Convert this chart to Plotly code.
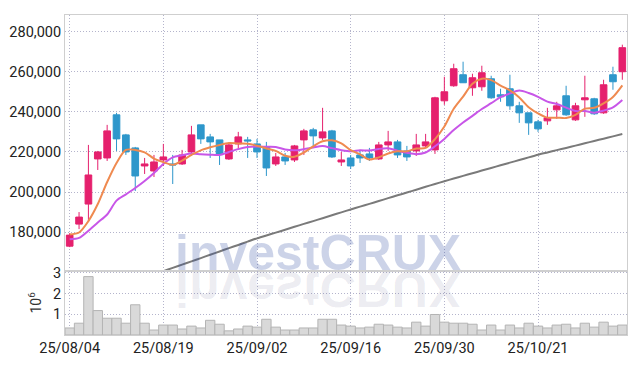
import plotly.graph_objects as go

dates = ["25/08/04","25/08/05","25/08/06","25/08/07","25/08/08","25/08/11","25/08/12","25/08/13","25/08/14","25/08/18",
         "25/08/19","25/08/20","25/08/21","25/08/22","25/08/25","25/08/26","25/08/27","25/08/28","25/08/29","25/09/01",
         "25/09/02","25/09/03","25/09/04","25/09/05","25/09/08","25/09/09","25/09/10","25/09/11","25/09/12","25/09/15",
         "25/09/16","25/09/17","25/09/18","25/09/19","25/09/22","25/09/23","25/09/24","25/09/25","25/09/26","25/09/29",
         "25/09/30","25/10/01","25/10/02","25/10/10","25/10/13","25/10/14","25/10/15","25/10/16","25/10/17","25/10/20",
         "25/10/21","25/10/22","25/10/23","25/10/24","25/10/27","25/10/28","25/10/29","25/10/30","25/10/31","25/11/03"]

opens = [173000,184000,194000,216500,217000,238500,228500,222000,213000,210500,
         216000,214000,214000,220000,233500,227500,226000,216500,224000,226000,
         224000,222500,214000,217500,216000,226000,231000,227000,230500,215000,
         217000,218500,219000,216500,223500,225000,220500,220500,223000,221000,
         245500,253000,258500,252000,252500,256500,248500,251500,243000,239500,
         235000,235500,241000,248000,236000,246000,246500,239500,258500,260000]
highs = [179500,190000,223500,220500,233500,239500,229000,222500,217000,218500,
         224000,218500,221000,233000,233500,229000,226000,224000,230000,227500,
         226500,225000,219500,219500,223500,231500,232000,242000,231000,220000,
         218500,220500,222000,225000,230500,226000,223000,229000,229000,247500,
         257500,264000,265000,259000,263000,258000,251500,258500,245000,239500,
         236000,242000,245000,253000,244500,258000,247000,256000,262500,273500]
lows = [172500,181500,185000,211000,215500,220500,218500,200500,209000,207500,
        213000,204000,213500,218000,224000,217000,213500,216000,221500,217000,
        217000,208000,213000,213500,215000,218500,222000,226000,217000,213000,
        211500,214500,215500,216000,220500,217000,215500,218000,222000,219000,
        243500,252500,254500,248000,250500,246500,245000,241000,234500,228500,
        230000,233500,236500,238000,235500,237500,238500,239000,251000,256000]
closes = [178500,187500,208500,220000,230500,226500,220000,208000,214000,215000,
          217500,213500,218500,228500,226500,225000,219000,223500,227500,225500,
          220000,212000,217500,215500,223000,230500,228000,230000,217500,216000,
          213000,217000,217000,223500,225000,218500,217500,223500,225000,247000,
          250000,261500,254500,257000,259500,247000,247500,243000,239500,234500,
          231500,237000,243000,238500,243000,247000,239000,253500,255000,272000]

ma5 = [178800,179800,185500,194000,205000,214500,221000,221000,219800,216700,
       214900,213600,215700,218500,220800,222300,223500,224400,224200,224100,
       223100,221700,220500,218100,217600,219700,222800,225300,225800,224300,
       220900,218800,216200,217300,219200,220300,220300,221700,222000,226400,
       232700,241500,247600,254000,256500,255800,253100,250700,247200,242300,
       239200,237100,237100,236900,238500,241600,242000,244200,247400,253200]
ma10 = [176400,177100,180700,184800,188800,195700,198800,202000,205500,209500,
        214000,217300,218300,219200,218800,218600,218500,220000,221400,222400,
        222700,222600,222500,221200,220800,221400,222200,222900,221900,220900,
        220300,220800,220700,221500,221800,220600,219600,218900,219700,222800,
        226500,230900,234700,238000,241400,244300,247300,249200,250600,249400,
        247500,245100,243900,242100,240400,240400,239600,240600,242200,245900]
ma_long = [None,None,None,None,None,None,None,None,None,158900,
           160500,162150,163800,165400,167050,168700,170350,172000,173600,175250,
           176900,178350,179750,181200,182650,184100,185500,186950,188400,189850,
           191300,192700,194100,195500,196950,198350,199750,201150,202600,204000,
           205400,206750,208050,209350,210700,212000,213350,214650,215950,217300,
           218600,219750,220900,222000,223150,224300,225450,226600,227750,228900]
volumes = [0.34,0.57,2.82,1.18,0.81,0.81,0.57,1.46,0.57,0.24,
           0.48,0.48,0.29,0.43,0.34,0.71,0.52,0.20,0.29,0.43,
           0.38,0.76,0.38,0.24,0.24,0.34,0.34,0.76,0.76,0.48,
           0.43,0.34,0.38,0.52,0.48,0.38,0.34,0.62,0.43,0.99,
           0.62,0.57,0.57,0.52,0.24,0.48,0.24,0.48,0.34,0.57,
           0.43,0.34,0.48,0.52,0.34,0.57,0.38,0.62,0.43,0.48]
volumes = [v * 1e6 for v in volumes]

price_ticks = [180000, 200000, 220000, 240000, 260000, 280000]
vol_ticks = [1e6, 2e6, 3e6]
vol_ticktext = ["1", "2", "3"]
date_ticks = dates[::10]

RED = "#e5206d"
BLUE = "#2e97cb"
GRID = "#b4b4cc"
GRIDDASH = "1px,2px"
TICKFONT = dict(family="Roboto, sans-serif", size=14.5, color="#222")

fig = go.Figure()
fig.add_trace(go.Bar(x=dates, y=volumes, yaxis="y2", width=1.0,
                     marker=dict(color="#d9d9d9", line=dict(color="#b4b4b4", width=1)),
                     hoverinfo="skip", showlegend=False))
fig.add_trace(go.Scatter(x=dates, y=ma_long, mode="lines", line=dict(color="#7a7a7a", width=2, shape="spline", smoothing=0.6),
                         showlegend=False, hoverinfo="skip", connectgaps=False))
fig.add_trace(go.Scatter(x=dates, y=ma10, mode="lines", line=dict(color="#c856e8", width=2, shape="spline", smoothing=0.8),
                         showlegend=False, hoverinfo="skip"))
fig.add_trace(go.Scatter(x=dates, y=ma5, mode="lines", line=dict(color="#ef8a50", width=2, shape="spline", smoothing=0.8),
                         showlegend=False, hoverinfo="skip"))
fig.add_trace(go.Candlestick(x=dates, open=opens, high=highs, low=lows, close=closes,
                             increasing=dict(line=dict(color=RED, width=1), fillcolor=RED),
                             decreasing=dict(line=dict(color=BLUE, width=1), fillcolor=BLUE),
                             whiskerwidth=0, showlegend=False))

fig.update_layout(
    width=637, height=366,
    margin=dict(l=63, r=10, t=9, b=28),
    paper_bgcolor="white", plot_bgcolor="rgba(0,0,0,0)",
    showlegend=False,
    boxgap=0.29, boxgroupgap=0,
    xaxis=dict(type="category", range=[-0.5, 59.5], anchor="y2",
               tickmode="array", tickvals=date_ticks, ticktext=date_ticks,
               showgrid=True, gridcolor=GRID, griddash=GRIDDASH, gridwidth=1,
               showline=True, linecolor="#cfcfcf", mirror="all",
               ticks="", tickfont=TICKFONT, rangeslider=dict(visible=False)),
    yaxis=dict(domain=[0.2006, 1], anchor="x", range=[160700, 288300],
               tickmode="array", tickvals=price_ticks, tickformat=",d",
               showgrid=True, gridcolor=GRID, griddash=GRIDDASH, gridwidth=1,
               showline=True, linecolor="#cfcfcf", mirror=True, zeroline=False,
               ticks="", tickfont=TICKFONT),
    yaxis2=dict(domain=[0, 0.2006], anchor="x", range=[0, 3.1e6],
                tickmode="array", tickvals=vol_ticks, ticktext=vol_ticktext,
                showgrid=True, gridcolor=GRID, griddash=GRIDDASH, gridwidth=1,
                showline=True, linecolor="#cfcfcf", mirror=True, zeroline=False,
                ticks="", tickfont=TICKFONT,
                title=dict(text="10<sup>6</sup>", font=dict(family="Roboto, sans-serif", size=14, color="#333"), standoff=8)),
    annotations=[
        dict(text="investCRUX", xref="paper", yref="paper", x=0.4495, y=0.256,
             xanchor="center", yanchor="middle", showarrow=False,
             font=dict(family="Liberation Sans, Arial, sans-serif", size=50, color="rgba(40,70,160,0.24)", weight="bold")),
        dict(text="investCRUX", xref="paper", yref="paper", x=0.4495, y=0.1447,
             xanchor="center", yanchor="middle", showarrow=False,
             font=dict(family="Liberation Sans, Arial, sans-serif", size=50, color="rgba(70,70,120,0.1)", weight="bold")),
    ],
)

post = """
document.body.style.margin = '0';
document.body.style.padding = '0';
var gd = document.getElementById('{plot_id}');
function flip(){
  var g = gd.querySelector('g.annotation[data-index="1"] text');
  if (g) {
    g.style.transformBox = 'fill-box';
    g.style.transformOrigin = 'center';
    g.style.transform = 'scaleY(-1)';
  }
}
flip();
gd.on('plotly_afterplot', flip);
"""

fig.write_html("out.html", post_script=post, config={"displayModeBar": False})
